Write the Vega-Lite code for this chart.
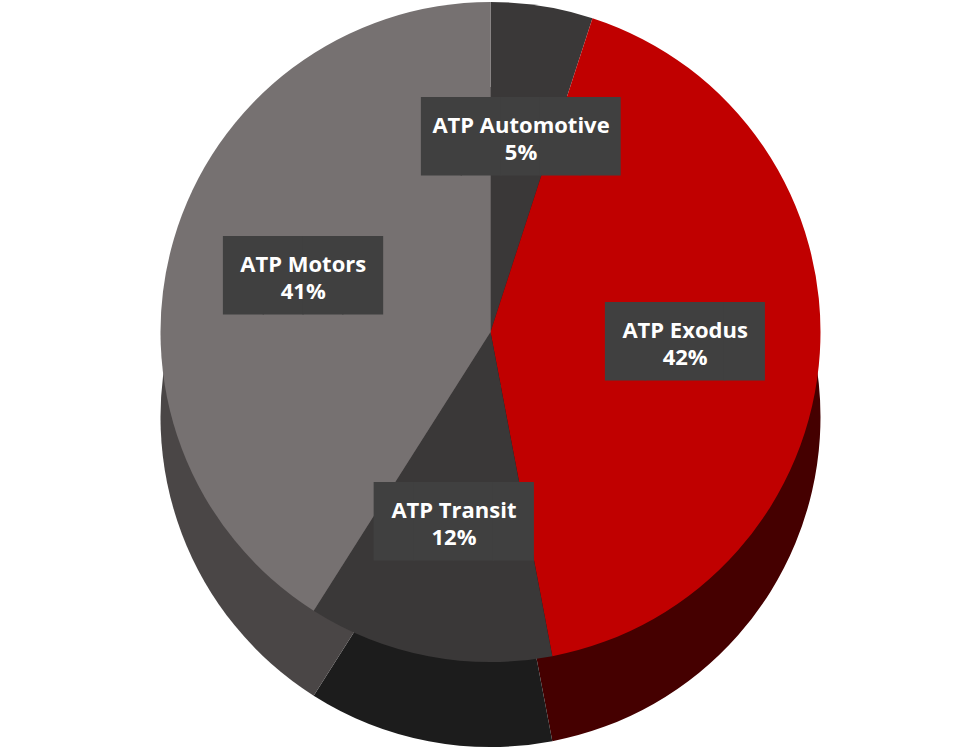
{
  "$schema": "https://vega.github.io/schema/vega-lite/v6.json",
  "width": 957,
  "height": 751,
  "autosize": {"type": "fit", "contains": "padding"},
  "padding": {"left": 24, "right": 0, "top": 0, "bottom": 0},
  "background": "white",
  "config": {"view": {"stroke": null}},
  "data": {
    "values": [
      {"k": 1, "name": "ATP Automotive", "share": 0.05},
      {"k": 2, "name": "ATP Exodus", "share": 0.42},
      {"k": 3, "name": "ATP Transit", "share": 0.12},
      {"k": 4, "name": "ATP Motors", "share": 0.41}
    ]
  },
  "layer": [
    {
      "mark": {"type": "arc", "radius": 330, "yOffset": 41.5},
      "encoding": {
        "theta": {"field": "share", "type": "quantitative", "stack": true},
        "order": {"field": "k"},
        "color": {"field": "name", "type": "nominal", "legend": null,
          "scale": {"domain": ["ATP Automotive", "ATP Exodus", "ATP Transit", "ATP Motors"], "range": ["#1c1c1c", "#450000", "#1c1c1c", "#4a4646"]}}
      }
    },
    {
      "mark": {"type": "arc", "radius": 330, "yOffset": -43.5},
      "encoding": {
        "theta": {"field": "share", "type": "quantitative", "stack": true},
        "order": {"field": "k"},
        "fill": {"field": "name", "type": "nominal", "legend": null,
          "scale": {"domain": ["ATP Automotive", "ATP Exodus", "ATP Transit", "ATP Motors"], "range": ["#3a3838", "#c00000", "#3a3838", "#767171"]}}
      }
    },
    {
      "mark": {"type": "text", "radius": 195, "yOffset": -43.5, "font": "DejaVu Sans Mono", "fontSize": 66, "fill": "#404040", "baseline": "middle", "align": "center"},
      "encoding": {
        "theta": {"field": "share", "type": "quantitative", "stack": true},
        "order": {"field": "k"},
        "text": {"condition": {"test": "datum.name === 'ATP Automotive'", "value": "█████"}, "value": "████"}
      }
    },
    {
      "mark": {"type": "text", "radius": 195, "yOffset": -43.5, "dy": -13, "font": "Open Sans", "fontWeight": "bold", "fontSize": 22, "fill": "white", "baseline": "middle", "align": "center"},
      "encoding": {
        "theta": {"field": "share", "type": "quantitative", "stack": true},
        "order": {"field": "k"},
        "text": {"field": "name"}
      }
    },
    {
      "mark": {"type": "text", "radius": 195, "yOffset": -43.5, "dy": 14, "font": "Open Sans", "fontWeight": "bold", "fontSize": 22, "fill": "white", "baseline": "middle", "align": "center"},
      "encoding": {
        "theta": {"field": "share", "type": "quantitative", "stack": true},
        "order": {"field": "k"},
        "text": {"field": "share", "format": ".0%"}
      }
    }
  ],
  "resolve": {"scale": {"color": "independent", "fill": "independent"}}
}
